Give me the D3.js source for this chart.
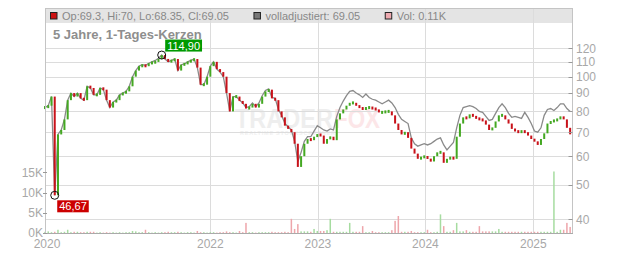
<!DOCTYPE html>
<html>
<head>
<meta charset="utf-8">
<script src="https://cdn.jsdelivr.net/npm/d3@7"></script>
<style>
body { margin: 0; background: #fff; }
svg { display: block; font-family: "Liberation Sans", Arial, sans-serif; }
</style>
</head>
<body>
<div id="chart"></div>
<script>
// one sample every 11 days, starting here
const firstDay = new Date(2020, 5, 19);
const lastDay = new Date(2025, 4, 14);
const stepDays = 11;

const closes = [
  82, 83, 88, 46.67, 69, 71, 76, 86, 90, 88,
  90, 87, 86, 94, 93, 89, 89, 93, 92, 86,
  82, 85, 86, 89, 90, 91, 94, 100, 104, 107,
  107.5, 107, 109, 109.5, 110, 112, 114.9, 112, 110, 111,
  112, 104, 108, 108.5, 110, 111, 112, 106, 95, 95,
  100, 107, 110, 105, 103, 100, 90, 80, 88, 88,
  85.5, 84, 81.5, 82, 84, 82, 84, 88, 91, 92,
  87, 86, 80, 77, 73, 71.5, 70, 65, 56, 60,
  65, 67, 66.5, 68, 69, 68.5, 65, 67, 68, 66.5,
  76, 79, 81, 83, 84.5, 84.5, 83, 82, 81, 82,
  82, 81.5, 81, 79.5, 79.5, 80, 80, 78, 74, 71,
  69, 70, 67.5, 63, 61, 59, 59.5, 60, 59, 58,
  60, 61.5, 61.5, 57.5, 59, 59.5, 59, 68, 74, 77,
  76.5, 78.5, 77.5, 76.5, 76, 75.5, 73.5, 71, 72, 75,
  78, 78, 76, 74, 71.5, 70.5, 70, 70.5, 70, 68.5,
  67, 66, 64.5, 67, 69.5, 74, 75, 75.5, 76, 77.5,
  76, 72, 69.05
];

// "volladjustiert" line
const adjusted = [
  82, 83, 88, 46.67, 69, 71, 76, 86, 90, 88,
  90, 87, 86, 94, 93, 89, 89, 93, 92, 86,
  82, 85, 86, 89, 90, 91, 94, 100, 104, 107,
  108, 107.5, 109, 110, 111, 112.5, 114.9, 112, 110, 111,
  112, 104, 108, 108.5, 110, 111, 112, 106, 95, 95,
  100, 107, 110, 105, 103, 100, 90, 80, 88, 88,
  86, 84.5, 82, 82.5, 84.5, 82.5, 84.5, 88.5, 91.5, 92.5,
  87.5, 87, 81, 78, 74, 72.5, 71, 66, 58, 61.5,
  66, 68, 68, 70.5, 73, 72, 71, 70.5, 71.5, 71,
  77.5, 82, 85.5, 88.5, 91, 91.5, 90, 89, 87.5, 89.5,
  87.5, 86.5, 86, 85, 84, 85, 86, 84.5, 82, 78.5,
  76, 75, 74, 67.5, 65, 64, 64.5, 65, 64.5, 65,
  66, 67, 67.5, 64.5, 62.5, 64, 65.5, 72, 78, 82,
  82.5, 83, 82.5, 81.5, 80, 79.5, 77.5, 75.5, 76, 79,
  82, 84, 82, 79, 77, 77.5, 77, 76.5, 79.5, 77,
  74, 70.5, 70, 72, 78, 81, 81.5, 80.5, 82, 84,
  84, 81.5, 80
];

// volume in thousands
const volumes = [
  0.3, 0.4, 0.2, 0.3, 0.8, 0.2, 0.3, 0.8, 0.2, 0.3,
  0.3, 0.2, 0.2, 0.3, 0.3, 0.3, 0.1, 0.2, 0.1, 0.2,
  0.1, 0.2, 0.1, 0.2, 0.1, 0.2, 0.2, 0.5, 0.4, 0.2,
  0.2, 0.8, 0.2, 0.1, 0.2, 0.1, 0.2, 0.2, 0.3, 0.2,
  0.2, 0.3, 0.2, 0.1, 0.2, 0.2, 0.1, 0.5, 0.2, 0.2,
  0.1, 0.2, 0.2, 0.1, 0.2, 0.2, 0.4, 0.2, 0.2, 0.1,
  0.5, 0.2, 2.5, 0.2, 0.2, 0.1, 0.2, 0.2, 0.2, 0.2,
  0.3, 0.2, 0.2, 0.2, 0.3, 0.2, 3.5, 1.0, 2.2, 0.4,
  0.4, 0.4, 0.3, 1.0, 0.5, 0.5, 0.5, 0.7, 3.5, 0.3,
  0.3, 0.3, 0.3, 0.3, 2.5, 0.3, 0.3, 0.3, 1.7, 0.2,
  0.2, 0.5, 0.2, 0.2, 0.2, 0.2, 0.2, 0.7, 3.0, 4.2,
  0.3, 0.3, 0.3, 0.5, 0.2, 0.2, 0.2, 0.2, 0.8, 0.2,
  0.2, 0.3, 4.6, 1.7, 0.3, 0.3, 0.7, 2.5, 0.4, 0.4,
  0.7, 0.3, 0.3, 0.3, 1.7, 0.4, 0.4, 0.4, 0.4, 0.4,
  1.0, 0.3, 0.3, 0.3, 0.3, 0.3, 0.3, 0.3, 0.3, 0.3,
  0.3, 0.3, 0.3, 0.3, 0.3, 0.3, 0.3, 15.2, 0.3, 0.8,
  0.8, 2.5, 1.5
];

const priceTicks = [40, 50, 60, 70, 80, 90, 100, 110, 120];
const volumeTicks = [0, 5, 10, 15];
const yearTicks = [2022, 2023, 2024, 2025];
const title = "5 Jahre, 1-Tages-Kerzen";
const legendItems = [
  { label: "Op:69.3, Hi:70, Lo:68.35, Cl:69.05", color: "#cc1111" },
  { label: "volladjustiert: 69.05", color: "#777777" },
  { label: "Vol: 0.11K", color: "#eeaab0" }
];

const width = 632, height = 253;
const plotLeft = 45, plotRight = 572.5, plotTop = 8, plotBottom = 233, headerH = 15;

const dates = closes.map((_, i) => d3.timeDay.offset(firstDay, i * stepDays));

const svg = d3.select("#chart").append("svg")
  .attr("width", width)
  .attr("height", height);

const x = d3.scaleTime().domain([firstDay, lastDay]).range([plotLeft, plotRight]);
const y = d3.scaleLog().domain([40, 120]).range([219.3, 48.3]);
const yVol = d3.scaleLinear().domain([0, 15]).range([plotBottom, 172.3]);

// watermark
const wm = svg.append("g").attr("font-weight", "bold");
wm.append("text").attr("x", 235).attr("y", 128).attr("font-size", 27)
  .attr("textLength", 98).attr("lengthAdjust", "spacingAndGlyphs")
  .attr("fill", "#eeeeee").text("TRADER");
wm.append("text").attr("x", 334).attr("y", 128).attr("font-size", 27)
  .attr("textLength", 46).attr("lengthAdjust", "spacingAndGlyphs")
  .attr("fill", "#fce6e8").text("FOX");
wm.append("text").attr("x", 240).attr("y", 135).attr("font-size", 5.5)
  .attr("textLength", 95).attr("fill", "#f0f0f0").text("REALTIME STOCKSCREENER");

// header band
svg.append("rect")
  .attr("x", plotLeft).attr("y", plotTop)
  .attr("width", plotRight - plotLeft).attr("height", headerH)
  .attr("fill", "#e4e4e4");

// gridlines
svg.append("g").selectAll("line").data(priceTicks).join("line")
  .attr("x1", plotLeft).attr("x2", plotRight)
  .attr("y1", d => Math.round(y(d)) + 0.5).attr("y2", d => Math.round(y(d)) + 0.5)
  .attr("stroke", "#dcdcdc");

svg.append("g").selectAll("line").data(yearTicks).join("line")
  .attr("x1", d => Math.round(x(new Date(d, 0, 1))) + 0.5)
  .attr("x2", d => Math.round(x(new Date(d, 0, 1))) + 0.5)
  .attr("y1", plotTop).attr("y2", plotBottom)
  .attr("stroke", "#dcdcdc");

const green = "#44a822", red = "#c8121a";
const up = i => i === 0 || closes[i] >= closes[i - 1];

// volume bars
svg.append("g").selectAll("rect").data(volumes).join("rect")
  .attr("x", (d, i) => x(dates[i]) - 0.75)
  .attr("width", 1.5)
  .attr("y", d => yVol(d))
  .attr("height", d => plotBottom - yVol(d))
  .attr("fill", (d, i) => up(i) ? "#a6dca0" : "#eea6ab");

// adjusted line
svg.append("path")
  .datum(adjusted)
  .attr("fill", "none")
  .attr("stroke", "#8a8a8a")
  .attr("stroke-width", 1.3)
  .attr("d", d3.line().x((d, i) => x(dates[i])).y(d => y(d)));

// candles: open = previous close
const candleMin = 3;
svg.append("g").selectAll("rect").data(closes).join("rect")
  .attr("x", (d, i) => x(dates[i]) - 1)
  .attr("width", 2)
  .attr("y", (d, i) => {
    const o = i ? closes[i - 1] : d;
    const y0 = y(Math.max(d, o)), h = Math.abs(y(d) - y(o));
    return h < candleMin ? y0 - (candleMin - h) / 2 : y0;
  })
  .attr("height", (d, i) => Math.max(candleMin, Math.abs(y(d) - y(i ? closes[i - 1] : d))))
  .attr("fill", (d, i) => up(i) ? green : red);

// frame
svg.append("rect")
  .attr("x", plotLeft + 0.5).attr("y", plotTop + 0.5)
  .attr("width", plotRight - plotLeft - 0.5).attr("height", plotBottom - plotTop)
  .attr("fill", "none").attr("stroke", "#c4c4c4");
svg.append("line")
  .attr("x1", plotLeft).attr("x2", plotRight + 0.5)
  .attr("y1", plotBottom + 0.5).attr("y2", plotBottom + 0.5)
  .attr("stroke", "#aaaaaa");

// header legend
const legend = svg.append("g").attr("font-size", 11).attr("fill", "#888");
let lx = 50.5;
legendItems.forEach(item => {
  legend.append("rect")
    .attr("x", lx).attr("y", 12.5).attr("width", 6.5).attr("height", 6.5)
    .attr("fill", item.color).attr("stroke", "#222").attr("stroke-width", 1);
  const t = legend.append("text").attr("x", lx + 11.5).attr("y", 19.5).text(item.label);
  lx += 11.5 + t.node().getComputedTextLength() + 25;
});

svg.append("text")
  .attr("x", 53).attr("y", 38.5)
  .attr("font-size", 13).attr("font-weight", "bold").attr("fill", "#8e8e8e")
  .text(title);

// right price axis
const axisColor = "#a8a8a8";
svg.append("g").selectAll("line").data(priceTicks).join("line")
  .attr("x1", plotRight - 4).attr("x2", plotRight)
  .attr("y1", d => Math.round(y(d)) + 0.5).attr("y2", d => Math.round(y(d)) + 0.5)
  .attr("stroke", "#999");
svg.append("g").attr("font-size", 12).attr("fill", axisColor)
  .selectAll("text").data(priceTicks).join("text")
  .attr("x", plotRight + 3.5).attr("y", d => y(d)).attr("dy", "0.36em")
  .text(d => d);

// left volume axis
svg.append("g").selectAll("line").data(volumeTicks).join("line")
  .attr("x1", plotLeft - 2).attr("x2", plotLeft + 2)
  .attr("y1", d => Math.round(yVol(d)) + 0.5).attr("y2", d => Math.round(yVol(d)) + 0.5)
  .attr("stroke", "#999");
svg.append("g").attr("font-size", 12).attr("fill", axisColor).attr("text-anchor", "end")
  .selectAll("text").data(volumeTicks).join("text")
  .attr("x", plotLeft - 2).attr("y", d => yVol(d)).attr("dy", "0.36em")
  .text(d => d + "K");

// year labels
const xLabels = [{ date: firstDay, text: "2020", dx: 2 }]
  .concat(yearTicks.map(yr => ({ date: new Date(yr, 0, 1), text: String(yr), dx: 0 })));
svg.append("g").attr("font-size", 12).attr("fill", axisColor).attr("text-anchor", "middle")
  .selectAll("text").data(xLabels).join("text")
  .attr("x", d => x(d.date) + d.dx).attr("y", 248)
  .text(d => d.text);

// max / min markers
const fmt = v => d3.format(".2f")(v).replace(".", ",");
function marker(i, color, above) {
  const cx = x(dates[i]), cy = y(closes[i]);
  svg.append("circle").attr("cx", cx).attr("cy", cy).attr("r", 4)
    .attr("fill", "none").attr("stroke", "#111").attr("stroke-width", 1);
  const g = svg.append("g");
  const t = g.append("text").attr("font-size", 11).attr("fill", "#fff").text(fmt(closes[i]));
  const w = t.node().getComputedTextLength() + 4;
  const bx = cx + (above ? 3.5 : 2.5), by = above ? cy - 15.5 : cy + 5;
  g.insert("rect", "text").attr("x", bx).attr("y", by).attr("width", w).attr("height", 12)
    .attr("fill", color);
  t.attr("x", bx + 2).attr("y", by + 10);
}
marker(d3.maxIndex(closes), "#009a00", true);
marker(d3.minIndex(closes), "#cc0000", false);
</script>
</body>
</html>
